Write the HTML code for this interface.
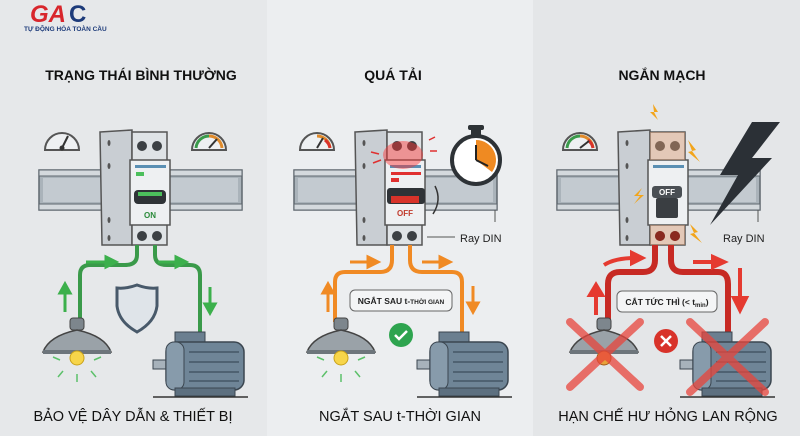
<!DOCTYPE html>
<html><head><meta charset="utf-8"><style>
html,body{margin:0;padding:0;width:800px;height:436px;overflow:hidden;background:#e8eaec}
svg{display:block}
text{font-family:"Liberation Sans","DejaVu Sans",sans-serif}
</style></head><body>
<svg width="800" height="436" viewBox="0 0 800 436" xmlns="http://www.w3.org/2000/svg">
<defs>
<g id="rail">
 <rect x="27" y="170" width="203" height="40" fill="#aab3ba" stroke="#5e676e" stroke-width="1.5"/>
 <rect x="31" y="178" width="195" height="24" fill="#c3cad0"/>
 <rect x="27" y="170" width="203" height="6" fill="#d4d9dd" stroke="#5e676e" stroke-width="1"/>
 <rect x="27" y="204" width="203" height="6" fill="#d4d9dd" stroke="#5e676e" stroke-width="1"/>
</g>
<g id="brk">
 <path d="M88 132 L120 130 L120 245 L90 245 Z" fill="#c9ced3" stroke="#555" stroke-width="1.5"/>
 <rect x="120" y="132" width="35" height="113" fill="#dfe3e6" stroke="#555" stroke-width="1.5"/>
 <rect x="118" y="160" width="40" height="65" fill="#eef0f2" stroke="#555" stroke-width="1.5"/>
 <rect x="123" y="165" width="31" height="3" fill="#5a8fb3"/>
 <circle cx="130" cy="146" r="5" fill="#3c4044"/><circle cx="145" cy="146" r="5" fill="#3c4044"/>
 <circle cx="130" cy="236" r="5" fill="#3c4044"/><circle cx="145" cy="236" r="5" fill="#3c4044"/>
 <ellipse cx="97" cy="143" rx="1.5" ry="3" fill="#555"/><ellipse cx="97" cy="166" rx="1.5" ry="3" fill="#555"/>
 <ellipse cx="97" cy="220" rx="1.5" ry="3" fill="#555"/><ellipse cx="97" cy="238" rx="1.5" ry="3" fill="#555"/>
</g>
<g id="gauge">
 <path d="M33 150 A17 17 0 0 1 67 150 Z" fill="#eef0f2" stroke="#555" stroke-width="2"/>
 <line x1="50" y1="148" x2="56" y2="136" stroke="#333" stroke-width="2"/><circle cx="50" cy="148" r="2.5" fill="#333"/>
</g>
<g id="lamp">
 <rect x="67" y="318" width="14" height="12" rx="3" fill="#7d868d" stroke="#444"/>
 <path d="M40 352 Q46 336 74 330 Q102 336 108 352 Z" fill="#9aa2a8" stroke="#444" stroke-width="1.5"/>
 <rect x="40" y="350" width="68" height="4" fill="#6d757b"/>
</g>
<g id="motor">
 <rect x="172" y="332" width="30" height="10" fill="#6b7f90" stroke="#3b4650"/>
 <rect x="150" y="360" width="18" height="9" fill="#a7b2bb" stroke="#3b4650"/>
 <rect x="163" y="342" width="78" height="48" rx="10" fill="#6f8597" stroke="#3b4650" stroke-width="1.5"/>
 <rect x="163" y="342" width="18" height="48" rx="8" fill="#879bab" stroke="#3b4650"/>
 <line x1="186" y1="352" x2="236" y2="352" stroke="#4f6272" stroke-width="2"/>
 <line x1="186" y1="362" x2="236" y2="362" stroke="#4f6272" stroke-width="2"/>
 <line x1="186" y1="372" x2="236" y2="372" stroke="#4f6272" stroke-width="2"/>
 <line x1="186" y1="381" x2="236" y2="381" stroke="#4f6272" stroke-width="2"/>
 <rect x="172" y="388" width="60" height="8" fill="#5d7080" stroke="#3b4650"/>
 <line x1="150" y1="397" x2="245" y2="397" stroke="#333" stroke-width="1.5"/>
</g>
</defs>

<rect x="0" y="0" width="267" height="436" fill="#e6e8ea"/>
<rect x="267" y="0" width="266" height="436" fill="#eceef0"/>
<rect x="533" y="0" width="267" height="436" fill="#e4e6e8"/>

<text x="30" y="22" font-size="24" font-weight="bold" fill="#d8262c" font-style="italic">GA</text>
<text x="69" y="22" font-size="24" font-weight="bold" fill="#1d3b7a">C</text>
<text x="24" y="31" font-size="6.5" font-weight="bold" fill="#1d3b7a">TỰ ĐỘNG HÓA TOÀN CẦU</text>

<text x="141" y="80" font-size="14" font-weight="bold" fill="#111" text-anchor="middle">TRẠNG THÁI BÌNH THƯỜNG</text>
<text x="393" y="80" font-size="14" font-weight="bold" fill="#111" text-anchor="middle">QUÁ TẢI</text>
<text x="662" y="80" font-size="14" font-weight="bold" fill="#111" text-anchor="middle">NGẮN MẠCH</text>

<g transform="translate(12,0)">
 <use href="#rail"/>
 <use href="#gauge"/>
 <g transform="translate(147,0)"><path d="M33 150 A17 17 0 0 1 67 150 Z" fill="#eef0f2" stroke="#555" stroke-width="2"/>
  <path d="M37 148 A13 13 0 0 1 50 136" fill="none" stroke="#3a9a4a" stroke-width="3"/>
  <path d="M50 136 A13 13 0 0 1 63 148" fill="none" stroke="#e08a2a" stroke-width="3"/>
  <line x1="50" y1="148" x2="58" y2="139" stroke="#333" stroke-width="2"/></g>
 <use href="#brk"/>
 <rect x="124" y="172" width="8" height="4" fill="#4cbf5c"/>
 <rect x="122" y="190" width="32" height="14" rx="4" fill="#2f3337"/>
 <rect x="126" y="192" width="24" height="4" fill="#4cbf5c"/>
 <text x="138" y="218" font-size="8" font-weight="bold" fill="#2a8a3a" text-anchor="middle">ON</text>
</g>
<g fill="none" stroke="#3a9a4a" stroke-width="4">
 <path d="M137 245 V255 Q137 265 125 265 H90 Q80 265 80 275 V322"/>
 <path d="M155 245 V255 Q155 265 167 265 H190 Q200 265 200 275 V336"/>
</g>
<g stroke="#3cb04c" stroke-width="3" fill="#3cb04c">
 <line x1="86" y1="262" x2="108" y2="262"/><path d="M106 257 L116 262 L106 267Z"/>
 <line x1="158" y1="262" x2="178" y2="262"/><path d="M176 257 L186 262 L176 267Z"/>
 <line x1="65" y1="312" x2="65" y2="292"/><path d="M60 293 L65 284 L70 293Z"/>
 <line x1="210" y1="287" x2="210" y2="305"/><path d="M205 304 L210 313 L215 304Z"/>
</g>
<g transform="translate(3,0)"><use href="#lamp"/></g>
<circle cx="77" cy="358" r="7" fill="#f7d54a" stroke="#c9a21a"/>
<g stroke="#5cc06a" stroke-width="1.5"><line x1="60" y1="360" x2="53" y2="357"/><line x1="94" y1="360" x2="101" y2="357"/><line x1="63" y1="371" x2="58" y2="377"/><line x1="91" y1="371" x2="96" y2="377"/><line x1="77" y1="374" x2="77" y2="382"/></g>
<path d="M137 285 Q126 289 117 288 V306 Q119 322 137 332 Q155 322 157 306 V288 Q148 289 137 285Z" fill="#dfe4e9" stroke="#48596a" stroke-width="3"/>
<g transform="translate(3,0)"><use href="#motor"/></g>
<text x="133" y="421" font-size="14.5" fill="#111" text-anchor="middle">BẢO VỆ DÂY DẪN &amp; THIẾT BỊ</text>

<g transform="translate(267,0)">
 <use href="#rail"/>
 <g><path d="M33 150 A17 17 0 0 1 67 150 Z" fill="#eef0f2" stroke="#555" stroke-width="2"/>
  <path d="M50 136 A13 13 0 0 1 63 148" fill="none" stroke="#e08a2a" stroke-width="3"/>
  <path d="M58 140 A13 13 0 0 1 63 148" fill="none" stroke="#d8332a" stroke-width="3"/>
  <line x1="50" y1="148" x2="56" y2="138" stroke="#333" stroke-width="2"/></g>
 <use href="#brk"/>
 <ellipse cx="136" cy="155" rx="20" ry="14" fill="#ff3030" opacity="0.45"/>
 <rect x="124" y="172" width="30" height="3" fill="#e03030"/>
 <rect x="124" y="178" width="8" height="4" fill="#e03030"/>
 <rect x="120" y="188" width="38" height="16" rx="3" fill="#2f3337"/>
 <rect x="124" y="196" width="28" height="7" fill="#d8332a"/>
 <text x="138" y="216" font-size="8" font-weight="bold" fill="#c0392b" text-anchor="middle">OFF</text>
 <path d="M168 186 Q175 200 166 214" fill="none" stroke="#333" stroke-width="1.5"/>
 <g stroke="#e03030" stroke-width="1.5"><line x1="104" y1="152" x2="112" y2="154"/><line x1="106" y1="163" x2="114" y2="160"/><line x1="162" y1="140" x2="168" y2="137"/><line x1="163" y1="151" x2="170" y2="151"/></g>
 <circle cx="209" cy="160" r="24" fill="#fff" stroke="#2d3236" stroke-width="4"/>
 <path d="M209 160 V140 A20 20 0 0 1 225 172 Z" fill="#ef8a22"/>
 <rect x="204" y="130" width="10" height="5" fill="#2d3236"/>
 <rect x="201" y="125" width="16" height="5" rx="2" fill="#2d3236"/>
 <line x1="209" y1="160" x2="209" y2="145" stroke="#222" stroke-width="2"/>
 <line x1="209" y1="160" x2="221" y2="166" stroke="#222" stroke-width="2"/>
 <line x1="160" y1="237" x2="188" y2="237" stroke="#555"/>
 <line x1="228" y1="210" x2="228" y2="222" stroke="#555"/>
 <text x="193" y="242" font-size="11" fill="#222">Ray DIN</text>
</g>
<g fill="none" stroke="#f08a24" stroke-width="4">
 <path d="M392 245 V260 Q392 272 380 272 H345 Q335 272 335 282 V322"/>
 <path d="M410 245 V260 Q410 272 422 272 H452 Q462 272 462 282 V334"/>
</g>
<g stroke="#f08a24" stroke-width="3" fill="#f08a24">
 <line x1="350" y1="262" x2="370" y2="262"/><path d="M368 257 L378 262 L368 267Z"/>
 <line x1="422" y1="262" x2="442" y2="262"/><path d="M440 257 L450 262 L440 267Z"/>
 <line x1="328" y1="312" x2="328" y2="292"/><path d="M323 293 L328 284 L333 293Z"/>
 <line x1="473" y1="286" x2="473" y2="304"/><path d="M468 303 L473 312 L478 303Z"/>
</g>
<rect x="350" y="290" width="102" height="21" rx="5" fill="#f4f5f6" stroke="#666"/>
<text x="401" y="304" font-size="8.5" font-weight="bold" fill="#222" text-anchor="middle">NGẮT SAU t-<tspan font-size="6.5">THỜI GIAN</tspan></text>
<circle cx="401" cy="335" r="12" fill="#2ea44f"/>
<path d="M395 335 L399 339 L407 331" fill="none" stroke="#fff" stroke-width="2.5"/>
<g transform="translate(267,0)"><use href="#lamp"/><use href="#motor"/></g>
<circle cx="341" cy="358" r="7" fill="#f7d54a" stroke="#c9a21a"/>
<g stroke="#5cc06a" stroke-width="1.5"><line x1="324" y1="360" x2="317" y2="357"/><line x1="358" y1="360" x2="365" y2="357"/><line x1="327" y1="371" x2="322" y2="377"/><line x1="355" y1="371" x2="360" y2="377"/><line x1="341" y1="374" x2="341" y2="382"/></g>
<text x="400" y="421" font-size="14.5" fill="#111" text-anchor="middle">NGẮT SAU t-THỜI GIAN</text>

<g transform="translate(530,0)">
 <use href="#rail"/>
 <g><path d="M33 150 A17 17 0 0 1 67 150 Z" fill="#eef0f2" stroke="#555" stroke-width="2"/>
  <path d="M37 148 A13 13 0 0 1 50 136" fill="none" stroke="#3a9a4a" stroke-width="3"/>
  <path d="M50 136 A13 13 0 0 1 63 148" fill="none" stroke="#e08a2a" stroke-width="3"/>
  <path d="M58 140 A13 13 0 0 1 63 148" fill="none" stroke="#d8332a" stroke-width="3"/>
  <line x1="50" y1="148" x2="59" y2="141" stroke="#333" stroke-width="2"/></g>
 <use href="#brk"/>
 <rect x="120" y="132" width="35" height="28" fill="#e8a070" opacity="0.4"/>
 <rect x="120" y="225" width="35" height="20" fill="#e8a070" opacity="0.4"/>
 <circle cx="130" cy="236" r="5" fill="#8a2a20"/><circle cx="145" cy="236" r="5" fill="#8a2a20"/>
 <rect x="122" y="186" width="30" height="12" rx="3" fill="#4a4f54"/>
 <text x="137" y="195" font-size="8" font-weight="bold" fill="#fff" text-anchor="middle">OFF</text>
 <rect x="126" y="198" width="22" height="20" rx="2" fill="#3a3e42"/>
 <g fill="#f2a51c"><path d="M158 140 L166 150 L162 151 L170 162 L158 152 L162 151Z"/><path d="M160 224 L168 232 L164 233 L172 243 L160 234 L164 233Z"/><path d="M112 188 L104 196 L110 196 L104 204 L114 195 L108 195Z"/><path d="M123 104 L128 112 L124 112 L128 120 L120 112 L124 112Z"/></g>
 <path d="M222 122 L190 175 L208 175 L180 225 L242 158 L222 158 L250 122 Z" fill="#2b3036"/>
 <line x1="228" y1="210" x2="228" y2="222" stroke="#555"/>
 <text x="193" y="242" font-size="11" fill="#222">Ray DIN</text>
</g>
<g fill="none" stroke="#c72a24" stroke-width="6">
 <path d="M655 245 V260 Q655 272 643 272 H620 Q608 272 608 284 V322"/>
 <path d="M671 245 V260 Q671 272 683 272 H718 Q728 272 728 284 V334"/>
</g>
<g stroke="#e53a30" stroke-width="4" fill="#e53a30">
 <path d="M604 265 Q615 258 635 258" fill="none"/><path d="M632 253 L642 258 L632 263Z"/>
 <line x1="693" y1="262" x2="715" y2="262" /><path d="M713 257 L724 262 L713 267Z" />
 <line x1="596" y1="315" x2="596" y2="294"/><path d="M590 295 L596 285 L602 295Z"/>
 <path d="M740 268 Q740 275 740 300" fill="none"/><path d="M734 298 L740 310 L746 298Z"/>
</g>
<rect x="617" y="291" width="100" height="21" rx="5" fill="#f4f5f6" stroke="#666"/>
<text x="667" y="305" font-size="8.5" font-weight="bold" fill="#222" text-anchor="middle">CẮT TỨC THÌ (&lt; t<tspan font-size="6" dy="2">min</tspan><tspan dy="-2">)</tspan></text>
<g transform="translate(530,0)"><use href="#lamp"/><use href="#motor"/></g>
<circle cx="604" cy="358" r="7" fill="#e8a23a" stroke="#a05a1a"/>
<circle cx="666" cy="341" r="12" fill="#d8332a"/>
<path d="M661 336 L671 346 M671 336 L661 346" stroke="#fff" stroke-width="2.5"/>
<g stroke="#e8453c" stroke-width="8" opacity="0.75" stroke-linecap="round">
 <line x1="570" y1="322" x2="640" y2="387"/><line x1="640" y1="322" x2="570" y2="387"/>
 <line x1="690" y1="322" x2="765" y2="392"/><line x1="765" y1="322" x2="690" y2="392"/>
</g>
<text x="668" y="421" font-size="14.5" fill="#111" text-anchor="middle">HẠN CHẾ HƯ HỎNG LAN RỘNG</text>
</svg>
</body></html>
